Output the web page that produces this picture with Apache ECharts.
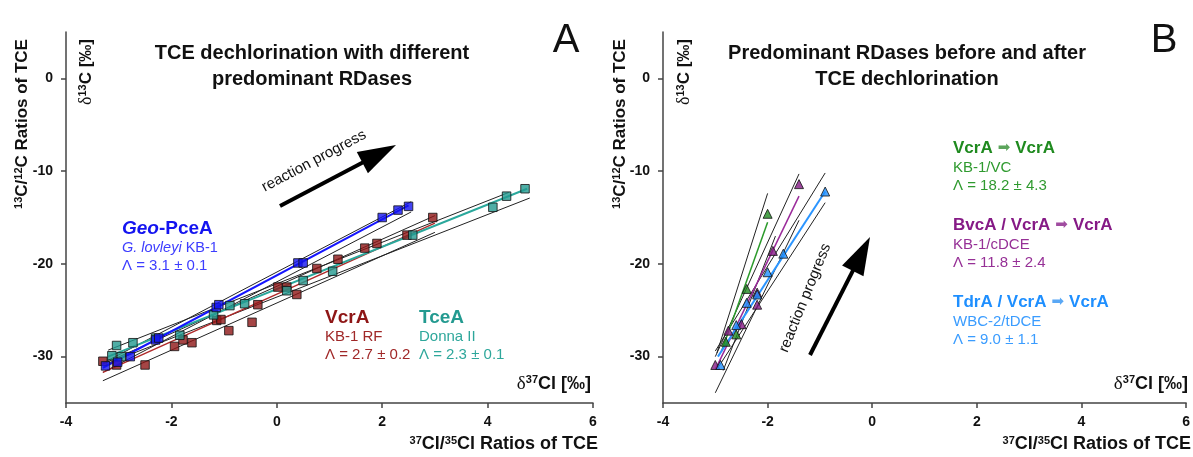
<!DOCTYPE html>
<html><head><meta charset="utf-8">
<script src="https://cdn.jsdelivr.net/npm/echarts@6/dist/echarts.min.js"></script>
<style>html,body{margin:0;padding:0;background:#fff}#c{width:1193px;height:457px}</style>
</head><body><div id="c"></div>
<script>
// ---------- Panel A data (δ37Cl, δ13C) ----------
const geoX = [-3.25, -3.02, -2.78, -2.3, -2.24, -1.15, -1.1, 0.4, 0.5, 2.0, 2.3, 2.5];
const geoY = [-31.0, -30.6, -30.0, -28.2, -28.0, -24.7, -24.4, -19.9, -19.9, -15.0, -14.2, -13.8];
const vcrX = [-3.30, -3.04, -2.50, -1.94, -1.78, -1.61, -1.14, -1.06, -0.91, -0.47, -0.36, 0.02, 0.19, 0.38, 0.76, 1.16, 1.67, 1.90, 2.47, 2.96];
const vcrY = [-30.5, -30.9, -30.9, -28.9, -28.2, -28.5, -26.1, -26.0, -27.2, -26.3, -24.4, -22.5, -22.5, -23.3, -20.5, -19.5, -18.3, -17.8, -16.9, -15.0];
const tceX = [-3.13, -3.04, -2.95, -2.73, -2.3, -1.84, -1.2, -0.89, -0.61, 0.19, 0.5, 1.06, 2.58, 4.1, 4.36, 4.71];
const tceY = [-29.9, -28.8, -30.0, -28.5, -28.0, -27.7, -25.5, -24.5, -24.3, -22.9, -21.8, -20.8, -16.9, -13.9, -12.7, -11.9];
// regression lines and 95% bands (endpoints)
const geoFit = [[-3.3, -31.2], [2.5, -13.7]];
const geoBandHi = [[-3.3, -30.7], [2.55, -13.3]];
const geoBandLo = [[-3.3, -31.7], [2.55, -14.4]];
const vcrFit = [[-3.3, -31.7], [3.0, -15.6]];
const vcrBandHi = [[-3.3, -30.8], [3.0, -14.8]];
const vcrBandLo = [[-3.3, -32.6], [3.0, -16.6]];
const tceFit = [[-3.2, -30.0], [4.75, -11.9]];
const tceBandHi = [[-3.2, -29.3], [4.4, -12.3]];
const tceBandLo = [[-3.2, -30.7], [4.8, -12.9]];

// ---------- Panel B data ----------
const grnX = [-2.8, -2.6, -2.4, -2.0];
const grnY = [-28.4, -27.6, -22.7, -14.6];
const purX = [-3.0, -2.75, -2.5, -2.2, -2.2, -1.9, -1.4];
const purY = [-30.9, -27.2, -26.5, -24.4, -23.1, -18.6, -11.4];
const bluX = [-2.9, -2.6, -2.4, -2.2, -2.0, -1.7, -0.9];
const bluY = [-30.9, -26.6, -24.2, -23.3, -20.9, -18.9, -12.2];
const grnFit = [[-2.88, -29.4], [-2.0, -15.5]];
const grnBandHi = [[-2.97, -29.6], [-2.0, -12.4]];
const grnBandLo = [[-2.85, -31.5], [-1.85, -17.0]];
const purFit = [[-3.0, -31.4], [-1.4, -12.7]];
const purBandHi = [[-3.0, -30.0], [-1.4, -10.3]];
const purBandLo = [[-3.0, -33.9], [-1.4, -15.3]];
const bluFit = [[-2.95, -30.0], [-0.9, -12.2]];
const bluBandHi = [[-3.0, -29.4], [-0.9, -10.2]];
const bluBandLo = [[-2.95, -31.2], [-0.9, -13.4]];

const xTicks = [-4, -2, 0, 2, 4, 6];
const yTicks = [-30, -20, -10, 0];

const zip = (xs, ys) => xs.map((x, i) => [x, ys[i]]);

const C = {
  geo: '#1414f0', geoT: '#3d3dff',
  vcr: '#8e1616', vcrT: '#a02828',
  tce: '#239a90', tceT: '#2ea79b',
  grn: '#1f8a1f', grnT: '#2f9a2f',
  pur: '#861a86', purT: '#963096',
  blu: '#1e8fff', bluT: '#3a9cff'
};

const chart = echarts.init(document.getElementById('c'), null, {renderer: 'canvas'});

function xAx(gi) {
  return {
    type: 'value', gridIndex: gi, min: -4, max: 6, interval: 2,
    axisLine: {onZero: false, lineStyle: {color: '#444', width: 1.5}},
    axisTick: {length: 5, lineStyle: {color: '#444', width: 1.5}},
    axisLabel: {color: '#111', fontWeight: 'bold', fontSize: 14, fontFamily: 'Liberation Sans', margin: 12},
    splitLine: {show: false}
  };
}
function yAx(gi) {
  return {
    type: 'value', gridIndex: gi, min: -35, max: 5,
    axisLine: {onZero: false, lineStyle: {color: '#444', width: 1.5}},
    axisTick: {length: 5, customValues: yTicks, lineStyle: {color: '#444', width: 1.5}},
    axisLabel: {customValues: yTicks, color: '#111', fontWeight: 'bold', fontSize: 14, fontFamily: 'Liberation Sans', margin: 13},
    splitLine: {show: false}
  };
}
function lineS(data, color, width, gi, z) {
  return {type: 'line', xAxisIndex: gi, yAxisIndex: gi, data: data, showSymbol: false, silent: true,
    lineStyle: {color: color, width: width}, z: z, animation: false};
}
function scat(xs, ys, color, sym, size, gi) {
  return {type: 'scatter', xAxisIndex: gi, yAxisIndex: gi, data: zip(xs, ys), symbol: sym, symbolSize: size,
    itemStyle: {color: color, borderColor: '#111', borderWidth: 1}, z: 5, animation: false};
}

const series = [
  lineS(geoBandHi, '#222', 1, 0, 2), lineS(geoBandLo, '#222', 1, 0, 2),
  lineS(vcrBandHi, '#222', 1, 0, 2), lineS(vcrBandLo, '#222', 1, 0, 2),
  lineS(tceBandHi, '#222', 1, 0, 2), lineS(tceBandLo, '#222', 1, 0, 2),
  lineS(vcrFit, '#b02a2a', 1.5, 0, 3), lineS(tceFit, '#2aa89c', 2, 0, 3), lineS(geoFit, '#1515ff', 2, 0, 3),
  scat(vcrX, vcrY, C.vcr, 'rect', 8.5, 0), scat(tceX, tceY, C.tce, 'rect', 8.5, 0), scat(geoX, geoY, C.geo, 'rect', 8.5, 0),
  lineS(grnBandHi, '#222', 1, 1, 2), lineS(grnBandLo, '#222', 1, 1, 2),
  lineS(purBandHi, '#222', 1, 1, 2), lineS(purBandLo, '#222', 1, 1, 2),
  lineS(bluBandHi, '#222', 1, 1, 2), lineS(bluBandLo, '#222', 1, 1, 2),
  lineS(grnFit, '#2a9a2a', 1.5, 1, 3), lineS(purFit, '#9a2a9a', 1.5, 1, 3), lineS(bluFit, '#2b95ff', 2, 1, 3),
  scat(grnX, grnY, C.grn, 'triangle', 9, 1), scat(purX, purY, C.pur, 'triangle', 9, 1), scat(bluX, bluY, C.blu, 'triangle', 9, 1)
];

const supRich = (size) => ({
  b: {fontSize: size, fontWeight: 'bold', fontFamily: 'Liberation Sans', fill: '#111'},
  s: {fontSize: Math.round(size * 0.62), fontWeight: 'bold', fontFamily: 'Liberation Sans', fill: '#111', verticalAlign: 'top'},
  d: {fontSize: size + 1, fontFamily: 'Liberation Serif', fill: '#111'}
});

function txt(x, y, text, opts) {
  return Object.assign({type: 'text', x: x, y: y, silent: true, z: 10,
    style: Object.assign({text: text, fontFamily: 'Liberation Sans', fontSize: 15, fill: '#111', align: 'left', verticalAlign: 'middle'}, opts || {})});
}
function rich(x, y, text, size, rot, align) {
  return {type: 'text', x: x, y: y, rotation: rot || 0, silent: true, z: 10,
    style: {text: text, rich: supRich(size), align: align || 'center', verticalAlign: 'middle'}};
}
function arrow(x1, y1, x2, y2) {
  const dx = x2 - x1, dy = y2 - y1, L = Math.hypot(dx, dy);
  const ux = dx / L, uy = dy / L, nx = -uy, ny = ux;
  const hl = 38, hw = 12;
  const bx = x2 - hl * ux, by = y2 - hl * uy;
  return [
    {type: 'line', silent: true, z: 10, shape: {x1: x1, y1: y1, x2: bx + 2 * ux, y2: by + 2 * uy}, style: {stroke: '#000', lineWidth: 4}},
    {type: 'polygon', silent: true, z: 10, shape: {points: [[x2, y2], [bx + hw * nx, by + hw * ny], [bx - hw * nx, by - hw * ny]]}, style: {fill: '#000'}}
  ];
}
function head(x, y, lbl, color, arrowColor) {
  // bold RDase label with an arrow glyph
  return {type: 'text', x: x, y: y, silent: true, z: 10, style: {text: lbl, verticalAlign: 'middle',
    rich: {t: {fontSize: 17, fontWeight: 'bold', fontFamily: 'Liberation Sans', fill: color},
           a: {fontSize: 15, fontFamily: 'DejaVu Sans', fill: arrowColor, padding: [0, 5, 0, 5]}}}};
}
const D = Math.PI / 180;

const graphics = [
  // titles
  txt(312, 53, 'TCE dechlorination with different', {fontSize: 20, fontWeight: 'bold', align: 'center'}),
  txt(312, 79, 'predominant RDases', {fontSize: 20, fontWeight: 'bold', align: 'center'}),
  txt(907, 53, 'Predominant RDases before and after', {fontSize: 20, fontWeight: 'bold', align: 'center'}),
  txt(907, 79, 'TCE dechlorination', {fontSize: 20, fontWeight: 'bold', align: 'center'}),
  txt(566, 41, 'A', {fontSize: 40, align: 'center'}),
  txt(1164, 41, 'B', {fontSize: 40, align: 'center'}),
  // axis names
  rich(22, 124, '{s|13}{b|C/}{s|12}{b|C Ratios of TCE}', 17, Math.PI / 2, 'center'),
  rich(620, 124, '{s|13}{b|C/}{s|12}{b|C Ratios of TCE}', 17, Math.PI / 2, 'center'),
  rich(86, 72, '{d|δ}{s|13}{b|C [‰]}', 17, Math.PI / 2, 'center'),
  rich(684, 72, '{d|δ}{s|13}{b|C [‰]}', 17, Math.PI / 2, 'center'),
  rich(598, 444, '{s|37}{b|Cl/}{s|35}{b|Cl Ratios of TCE}', 18, 0, 'right'),
  rich(1191, 444, '{s|37}{b|Cl/}{s|35}{b|Cl Ratios of TCE}', 18, 0, 'right'),
  rich(591, 384, '{d|δ}{s|37}{b|Cl [‰]}', 18, 0, 'right'),
  rich(1188, 384, '{d|δ}{s|37}{b|Cl [‰]}', 18, 0, 'right'),
  // panel A labels
  {type: 'text', x: 122, y: 229, silent: true, z: 10, style: {text: '{i|Geo}{n|-PceA}', verticalAlign: 'middle',
    rich: {i: {fontSize: 19, fontWeight: 'bold', fontStyle: 'italic', fontFamily: 'Liberation Sans', fill: C.geo},
           n: {fontSize: 19, fontWeight: 'bold', fontFamily: 'Liberation Sans', fill: C.geo}}}},
  {type: 'text', x: 122, y: 248, silent: true, z: 10, style: {text: '{i|G. lovleyi}{n| KB-1}', verticalAlign: 'middle',
    rich: {i: {fontSize: 14.5, fontStyle: 'italic', fontFamily: 'Liberation Sans', fill: C.geoT},
           n: {fontSize: 14.5, fontFamily: 'Liberation Sans', fill: C.geoT}}}},
  txt(122, 266, 'Λ = 3.1 ± 0.1', {fill: C.geoT}),
  txt(325, 318, 'VcrA', {fontSize: 19, fontWeight: 'bold', fill: C.vcr}),
  txt(325, 337, 'KB-1 RF', {fill: C.vcrT}),
  txt(325, 355, 'Λ = 2.7 ± 0.2', {fill: C.vcrT}),
  txt(419, 318, 'TceA', {fontSize: 19, fontWeight: 'bold', fill: C.tce}),
  txt(419, 337, 'Donna II', {fill: C.tceT}),
  txt(419, 355, 'Λ = 2.3 ± 0.1', {fill: C.tceT}),
  {type: 'text', x: 314, y: 161, rotation: 28 * D, silent: true, z: 10,
    style: {text: 'reaction progress', fontFamily: 'Liberation Sans', fontSize: 15, fill: '#111', align: 'center', verticalAlign: 'middle'}},
  {type: 'text', x: 805, y: 298, rotation: 68 * D, silent: true, z: 10,
    style: {text: 'reaction progress', fontFamily: 'Liberation Sans', fontSize: 15, fill: '#111', align: 'center', verticalAlign: 'middle'}},
  // panel B labels
  head(953, 148, '{t|VcrA}{a|➡}{t|VcrA}', C.grn, '#5ca55c'),
  txt(953, 168, 'KB-1/VC', {fill: C.grnT}),
  txt(953, 186, 'Λ = 18.2 ± 4.3', {fill: C.grnT}),
  head(953, 225, '{t|BvcA / VcrA}{a|➡}{t|VcrA}', C.pur, '#a04ca0'),
  txt(953, 245, 'KB-1/cDCE', {fill: C.purT}),
  txt(953, 263, 'Λ = 11.8 ± 2.4', {fill: C.purT}),
  head(953, 302, '{t|TdrA / VcrA}{a|➡}{t|VcrA}', C.blu, '#5aa8f5'),
  txt(953, 322, 'WBC-2/tDCE', {fill: C.bluT}),
  txt(953, 340, 'Λ = 9.0 ± 1.1', {fill: C.bluT})
].concat(arrow(280, 206, 396, 145), arrow(810, 355, 870, 237));

chart.setOption({
  animation: false,
  backgroundColor: '#fff',
  grid: [
    {left: 66, top: 32, width: 527, height: 371},
    {left: 663, top: 32, width: 527, height: 371}
  ],
  xAxis: [xAx(0), xAx(1)],
  yAxis: [yAx(0), yAx(1)],
  series: series,
  graphic: graphics
});
</script></body></html>
